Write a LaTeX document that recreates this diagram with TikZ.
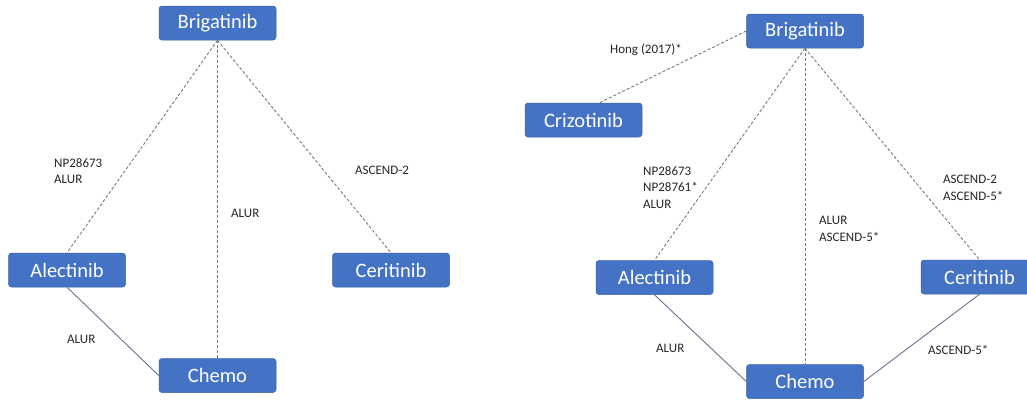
\documentclass[tikz,border=0pt]{standalone}
\usepackage{fontspec}
\setmainfont{Carlito}
\definecolor{boxblue}{HTML}{4472C4}
\definecolor{dashgray}{HTML}{7A7A7A}
\definecolor{solidgray}{HTML}{65728F}
\definecolor{labtext}{HTML}{262626}
\begin{document}
\begin{tikzpicture}[x=1pt,y=-1pt,
  drug/.style={fill=boxblue, draw=boxblue!85!black, line width=0.5pt, rounded corners=3pt,
    minimum width=117pt, minimum height=34pt, inner sep=0pt,
    text=white, font=\fontsize{20.5}{24}\selectfont},
  dashlink/.style={draw=dashgray, line width=0.9pt, dash pattern=on 3pt off 2pt},
  solidlink/.style={draw=solidgray, line width=0.9pt},
  lab/.style={anchor=north west, inner sep=0pt, text=labtext, align=left,
    font=\fontsize{13}{16.5}\selectfont}
]
\useasboundingbox (0,0) rectangle (1027,400);
\clip (0,0) rectangle (1027,400);
\fill[white] (0,0) rectangle (1027,400);

% ---------- left panel ----------
\node[drug] (LB) at (217.5,23) {Brigatinib};
\node[drug] (LA) at (67,270) {Alectinib};
\node[drug] (LCe) at (391,270) {Ceritinib};
\node[drug] (LCh) at (217.5,375.5) {Chemo};

\draw[dashlink] (LB.south) -- (LA.north);
\draw[dashlink] (LB.south) -- (LCe.north);
\draw[dashlink] (LB.south) -- (LCh.north);
\draw[solidlink] (LA.south) -- (LCh.west);

\node[lab] (l1) at (54,158) {NP28673\\ALUR};
\node[lab] (l2) at (355,166) {ASCEND-2};
\node[lab] (l3) at (231,209) {ALUR};
\node[lab] (l4) at (67,335) {ALUR};

% ---------- right panel ----------
\node[drug] (RB) at (805,31) {Brigatinib};
\node[drug] (RCr) at (583.5,120) {Crizotinib};
\node[drug] (RA) at (654.5,277.5) {Alectinib};
\node[drug] (RCe) at (979.5,277) {Ceritinib};
\node[drug] (RCh) at (805,381.5) {Chemo};

\draw[dashlink] (RB.west) -- ([xshift=16pt]RCr.north);
\draw[dashlink] (RB.south) -- (RA.north);
\draw[dashlink] (RB.south) -- (RCh.north);
\draw[dashlink] (RB.south) -- (RCe.north);
\draw[solidlink] (RA.south) -- (RCh.west);
\draw[solidlink] (RCe.south) -- (RCh.east);

\node[lab] (r0) at (610,44) {Hong (2017)*};
\node[lab] (r1) at (643,166) {NP28673\\NP28761*\\ALUR};
\node[lab] (r2) at (819,216) {ALUR\\ASCEND-5*};
\node[lab] (r3) at (943,175) {ASCEND-2\\ASCEND-5*};
\node[lab] (r4) at (656,344) {ALUR};
\node[lab] (r5) at (928,345) {ASCEND-5*};
\end{tikzpicture}
\end{document}
